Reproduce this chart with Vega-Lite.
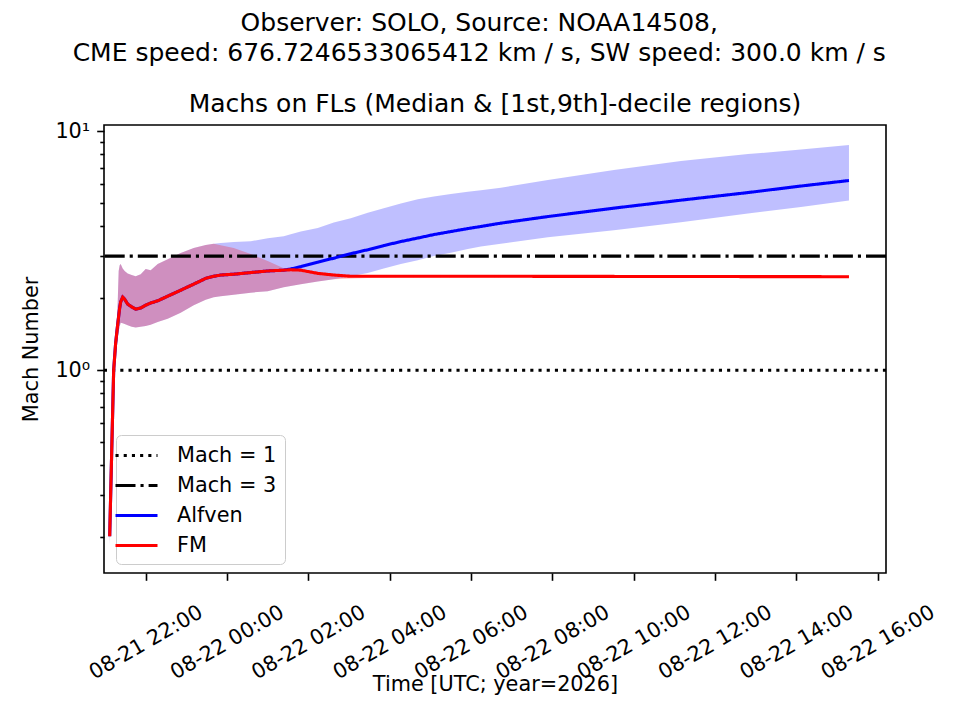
{
  "$schema": "https://vega.github.io/schema/vega-lite/v6.json",
  "background": "white",
  "padding": {"left": 20, "top": 11, "right": 10, "bottom": 10},
  "title": {
    "text": ["Observer: SOLO, Source: NOAA14508,", "CME speed: 676.7246533065412 km / s, SW speed: 300.0 km / s"],
    "fontSize": 25,
    "lineHeight": 30,
    "anchor": "middle",
    "frame": "bounds",
    "offset": 25
  },
  "resolve": {
    "scale": {"color": "independent", "strokeDash": "independent"},
    "legend": {"color": "independent", "strokeDash": "independent"}
  },
  "datasets": {
    "alfven": [
      {"t": "2026-08-21T21:06:54Z", "lo": 0.185, "med": 0.202, "hi": 0.22, "series": "Alfven"},
      {"t": "2026-08-21T21:09:49Z", "lo": 0.40, "med": 0.45, "hi": 0.52, "series": "Alfven"},
      {"t": "2026-08-21T21:12:46Z", "lo": 0.88, "med": 1.0, "hi": 1.12, "series": "Alfven"},
      {"t": "2026-08-21T21:15:43Z", "lo": 1.15, "med": 1.30, "hi": 1.45, "series": "Alfven"},
      {"t": "2026-08-21T21:17:12Z", "lo": 1.25, "med": 1.42, "hi": 1.58, "series": "Alfven"},
      {"t": "2026-08-21T21:18:40Z", "lo": 1.35, "med": 1.55, "hi": 1.9, "series": "Alfven"},
      {"t": "2026-08-21T21:20:08Z", "lo": 1.45, "med": 1.68, "hi": 2.6, "series": "Alfven"},
      {"t": "2026-08-21T21:21:37Z", "lo": 1.52, "med": 1.82, "hi": 2.75, "series": "Alfven"},
      {"t": "2026-08-21T21:23:06Z", "lo": 1.58, "med": 1.93, "hi": 2.78, "series": "Alfven"},
      {"t": "2026-08-21T21:26:03Z", "lo": 1.57, "med": 2.02, "hi": 2.66, "series": "Alfven"},
      {"t": "2026-08-21T21:29:00Z", "lo": 1.56, "med": 1.98, "hi": 2.60, "series": "Alfven"},
      {"t": "2026-08-21T21:33:26Z", "lo": 1.54, "med": 1.89, "hi": 2.54, "series": "Alfven"},
      {"t": "2026-08-21T21:39:20Z", "lo": 1.52, "med": 1.84, "hi": 2.50, "series": "Alfven"},
      {"t": "2026-08-21T21:45:14Z", "lo": 1.51, "med": 1.80, "hi": 2.47, "series": "Alfven"},
      {"t": "2026-08-21T21:52:37Z", "lo": 1.52, "med": 1.82, "hi": 2.52, "series": "Alfven"},
      {"t": "2026-08-21T22:00:00Z", "lo": 1.53, "med": 1.87, "hi": 2.65, "series": "Alfven"},
      {"t": "2026-08-21T22:07:23Z", "lo": 1.55, "med": 1.91, "hi": 2.62, "series": "Alfven"},
      {"t": "2026-08-21T22:17:43Z", "lo": 1.59, "med": 1.95, "hi": 2.78, "series": "Alfven"},
      {"t": "2026-08-21T22:32:29Z", "lo": 1.64, "med": 2.04, "hi": 2.91, "series": "Alfven"},
      {"t": "2026-08-21T22:51:40Z", "lo": 1.74, "med": 2.16, "hi": 3.09, "series": "Alfven"},
      {"t": "2026-08-21T23:10:51Z", "lo": 1.87, "med": 2.29, "hi": 3.24, "series": "Alfven"},
      {"t": "2026-08-21T23:28:34Z", "lo": 1.97, "med": 2.42, "hi": 3.34, "series": "Alfven"},
      {"t": "2026-08-21T23:40:22Z", "lo": 2.02, "med": 2.47, "hi": 3.38, "series": "Alfven"},
      {"t": "2026-08-21T23:50:42Z", "lo": 2.04, "med": 2.50, "hi": 3.40, "series": "Alfven"},
      {"t": "2026-08-22T00:09:53Z", "lo": 2.07, "med": 2.52, "hi": 3.44, "series": "Alfven"},
      {"t": "2026-08-22T00:34:59Z", "lo": 2.11, "med": 2.56, "hi": 3.46, "series": "Alfven"},
      {"t": "2026-08-22T01:00:04Z", "lo": 2.14, "med": 2.60, "hi": 3.56, "series": "Alfven"},
      {"t": "2026-08-22T01:23:41Z", "lo": 2.22, "med": 2.62, "hi": 3.63, "series": "Alfven"},
      {"t": "2026-08-22T01:34:01Z", "lo": 2.25, "med": 2.65, "hi": 3.70, "series": "Alfven"},
      {"t": "2026-08-22T01:48:46Z", "lo": 2.29, "med": 2.71, "hi": 3.80, "series": "Alfven"},
      {"t": "2026-08-22T02:13:52Z", "lo": 2.35, "med": 2.83, "hi": 3.93, "series": "Alfven"},
      {"t": "2026-08-22T02:37:29Z", "lo": 2.40, "med": 2.94, "hi": 4.15, "series": "Alfven"},
      {"t": "2026-08-22T03:02:35Z", "lo": 2.47, "med": 3.07, "hi": 4.32, "series": "Alfven"},
      {"t": "2026-08-22T03:27:40Z", "lo": 2.55, "med": 3.19, "hi": 4.55, "series": "Alfven"},
      {"t": "2026-08-22T03:51:17Z", "lo": 2.66, "med": 3.32, "hi": 4.76, "series": "Alfven"},
      {"t": "2026-08-22T04:16:23Z", "lo": 2.78, "med": 3.45, "hi": 4.98, "series": "Alfven"},
      {"t": "2026-08-22T04:41:28Z", "lo": 2.88, "med": 3.57, "hi": 5.19, "series": "Alfven"},
      {"t": "2026-08-22T05:05:05Z", "lo": 3.00, "med": 3.69, "hi": 5.33, "series": "Alfven"},
      {"t": "2026-08-22T05:30:11Z", "lo": 3.10, "med": 3.80, "hi": 5.45, "series": "Alfven"},
      {"t": "2026-08-22T05:55:17Z", "lo": 3.21, "med": 3.91, "hi": 5.58, "series": "Alfven"},
      {"t": "2026-08-22T06:14:30Z", "lo": 3.29, "med": 3.99, "hi": 5.66, "series": "Alfven"},
      {"t": "2026-08-22T06:43:59Z", "lo": 3.38, "med": 4.12, "hi": 5.80, "series": "Alfven"},
      {"t": "2026-08-22T07:53:22Z", "lo": 3.60, "med": 4.39, "hi": 6.24, "series": "Alfven"},
      {"t": "2026-08-22T09:30:46Z", "lo": 3.85, "med": 4.76, "hi": 6.87, "series": "Alfven"},
      {"t": "2026-08-22T11:09:40Z", "lo": 4.16, "med": 5.14, "hi": 7.49, "series": "Alfven"},
      {"t": "2026-08-22T12:48:34Z", "lo": 4.52, "med": 5.53, "hi": 8.01, "series": "Alfven"},
      {"t": "2026-08-22T14:06:47Z", "lo": 4.81, "med": 5.89, "hi": 8.37, "series": "Alfven"},
      {"t": "2026-08-22T15:17:37Z", "lo": 5.12, "med": 6.21, "hi": 8.74, "series": "Alfven"}
    ],
    "fm": [
      {"t": "2026-08-21T21:06:54Z", "lo": 0.185, "med": 0.202, "hi": 0.22, "series": "FM"},
      {"t": "2026-08-21T21:09:49Z", "lo": 0.40, "med": 0.45, "hi": 0.52, "series": "FM"},
      {"t": "2026-08-21T21:12:46Z", "lo": 0.88, "med": 1.0, "hi": 1.12, "series": "FM"},
      {"t": "2026-08-21T21:15:43Z", "lo": 1.15, "med": 1.30, "hi": 1.45, "series": "FM"},
      {"t": "2026-08-21T21:17:12Z", "lo": 1.25, "med": 1.42, "hi": 1.58, "series": "FM"},
      {"t": "2026-08-21T21:18:40Z", "lo": 1.35, "med": 1.55, "hi": 1.9, "series": "FM"},
      {"t": "2026-08-21T21:20:08Z", "lo": 1.45, "med": 1.68, "hi": 2.6, "series": "FM"},
      {"t": "2026-08-21T21:21:37Z", "lo": 1.52, "med": 1.82, "hi": 2.75, "series": "FM"},
      {"t": "2026-08-21T21:23:06Z", "lo": 1.58, "med": 1.93, "hi": 2.78, "series": "FM"},
      {"t": "2026-08-21T21:26:03Z", "lo": 1.57, "med": 2.02, "hi": 2.66, "series": "FM"},
      {"t": "2026-08-21T21:29:00Z", "lo": 1.56, "med": 1.98, "hi": 2.60, "series": "FM"},
      {"t": "2026-08-21T21:33:26Z", "lo": 1.54, "med": 1.89, "hi": 2.54, "series": "FM"},
      {"t": "2026-08-21T21:39:20Z", "lo": 1.52, "med": 1.84, "hi": 2.50, "series": "FM"},
      {"t": "2026-08-21T21:45:14Z", "lo": 1.51, "med": 1.80, "hi": 2.47, "series": "FM"},
      {"t": "2026-08-21T21:52:37Z", "lo": 1.52, "med": 1.82, "hi": 2.52, "series": "FM"},
      {"t": "2026-08-21T22:00:00Z", "lo": 1.53, "med": 1.87, "hi": 2.65, "series": "FM"},
      {"t": "2026-08-21T22:07:23Z", "lo": 1.55, "med": 1.91, "hi": 2.62, "series": "FM"},
      {"t": "2026-08-21T22:17:43Z", "lo": 1.59, "med": 1.95, "hi": 2.78, "series": "FM"},
      {"t": "2026-08-21T22:32:29Z", "lo": 1.64, "med": 2.04, "hi": 2.91, "series": "FM"},
      {"t": "2026-08-21T22:51:40Z", "lo": 1.74, "med": 2.16, "hi": 3.09, "series": "FM"},
      {"t": "2026-08-21T23:10:51Z", "lo": 1.87, "med": 2.29, "hi": 3.24, "series": "FM"},
      {"t": "2026-08-21T23:28:34Z", "lo": 1.97, "med": 2.42, "hi": 3.34, "series": "FM"},
      {"t": "2026-08-21T23:40:22Z", "lo": 2.02, "med": 2.47, "hi": 3.38, "series": "FM"},
      {"t": "2026-08-21T23:50:42Z", "lo": 2.04, "med": 2.50, "hi": 3.33, "series": "FM"},
      {"t": "2026-08-22T00:09:53Z", "lo": 2.07, "med": 2.52, "hi": 3.24, "series": "FM"},
      {"t": "2026-08-22T00:34:59Z", "lo": 2.11, "med": 2.56, "hi": 3.06, "series": "FM"},
      {"t": "2026-08-22T01:00:04Z", "lo": 2.14, "med": 2.60, "hi": 2.86, "series": "FM"},
      {"t": "2026-08-22T01:23:41Z", "lo": 2.22, "med": 2.62, "hi": 2.67, "series": "FM"},
      {"t": "2026-08-22T01:34:01Z", "lo": 2.25, "med": 2.63, "hi": 2.65, "series": "FM"},
      {"t": "2026-08-22T01:48:46Z", "lo": 2.29, "med": 2.62, "hi": 2.64, "series": "FM"},
      {"t": "2026-08-22T02:13:52Z", "lo": 2.35, "med": 2.54, "hi": 2.58, "series": "FM"},
      {"t": "2026-08-22T02:37:29Z", "lo": 2.40, "med": 2.50, "hi": 2.53, "series": "FM"},
      {"t": "2026-08-22T03:02:35Z", "lo": 2.42, "med": 2.47, "hi": 2.50, "series": "FM"},
      {"t": "2026-08-22T03:27:40Z", "lo": 2.43, "med": 2.47, "hi": 2.50, "series": "FM"},
      {"t": "2026-08-22T04:16:23Z", "lo": 2.44, "med": 2.47, "hi": 2.50, "series": "FM"},
      {"t": "2026-08-22T06:43:59Z", "lo": 2.44, "med": 2.47, "hi": 2.50, "series": "FM"},
      {"t": "2026-08-22T15:17:37Z", "lo": 2.43, "med": 2.46, "hi": 2.49, "series": "FM"}
    ],
    "mach": [
      {"series": "Mach = 1", "y": 1},
      {"series": "Mach = 3", "y": 3}
    ]
  },
  "vconcat": [
    {
      "width": 782,
      "height": 448,
      "title": {"text": "Machs on FLs (Median & [1st,9th]-decile regions)", "fontSize": 25, "offset": 3},
      "layer": [
        {
          "data": {"name": "alfven"},
          "mark": {"type": "area", "color": "#0000ff", "opacity": 0.25},
          "encoding": {
            "x": {
              "field": "t", "type": "temporal", "title": "Time [UTC; year=2026]",
              "scale": {"type": "utc", "domain": [
                {"year": 2026, "month": 8, "date": 21, "hours": 20, "minutes": 58, "seconds": 30, "utc": true},
                {"year": 2026, "month": 8, "date": 22, "hours": 16, "minutes": 12, "seconds": 15, "utc": true}
              ]},
              "axis": {
                "values": [
                  {"year": 2026, "month": 8, "date": 21, "hours": 22, "utc": true},
                  {"year": 2026, "month": 8, "date": 22, "hours": 0, "utc": true},
                  {"year": 2026, "month": 8, "date": 22, "hours": 2, "utc": true},
                  {"year": 2026, "month": 8, "date": 22, "hours": 4, "utc": true},
                  {"year": 2026, "month": 8, "date": 22, "hours": 6, "utc": true},
                  {"year": 2026, "month": 8, "date": 22, "hours": 8, "utc": true},
                  {"year": 2026, "month": 8, "date": 22, "hours": 10, "utc": true},
                  {"year": 2026, "month": 8, "date": 22, "hours": 12, "utc": true},
                  {"year": 2026, "month": 8, "date": 22, "hours": 14, "utc": true},
                  {"year": 2026, "month": 8, "date": 22, "hours": 16, "utc": true}
                ],
                "labelExpr": "utcFormat(datum.value, '%m-%d %H:%M')",
                "labelAngle": -30,
                "labelAlign": "center",
                "labelBaseline": "middle",
                "labelPadding": 62,
                "labelOverlap": false,
                "labelFlush": false,
                "labelBound": false,
                "tickSize": 7.3,
                "titlePadding": -8
              }
            },
            "y": {
              "field": "lo", "type": "quantitative", "title": "Mach Number",
              "scale": {"type": "log", "domain": [0.1419, 10.6], "nice": false},
              "axis": {
                "values": [0.2, 0.3, 0.4, 0.5, 0.6, 0.7, 0.8, 0.9, 1, 2, 3, 4, 5, 6, 7, 8, 9, 10],
                "labelExpr": "datum.value == 1 ? '10⁰' : (datum.value == 10 ? '10¹' : '')",
                "tickSize": {"condition": {"test": "datum.value == 1 || datum.value == 10", "value": 7.3}, "value": 4.2},
                "labelPadding": 7,
                "titlePadding": 13
              }
            },
            "y2": {"field": "hi"}
          }
        },
        {
          "data": {"name": "fm"},
          "mark": {"type": "area", "color": "#ff0000", "opacity": 0.25},
          "encoding": {
            "x": {"field": "t", "type": "temporal", "title": "Time [UTC; year=2026]"},
            "y": {"field": "lo", "type": "quantitative", "title": "Mach Number"},
            "y2": {"field": "hi"}
          }
        },
        {
          "data": {"name": "mach"},
          "mark": {"type": "rule", "strokeWidth": 3.1},
          "encoding": {
            "y": {"field": "y", "type": "quantitative", "title": "Mach Number"},
            "color": {"field": "series", "type": "nominal", "title": null,
              "scale": {"domain": ["Mach = 1", "Mach = 3", "Alfven", "FM"], "range": ["#000000", "#000000", "#0000ff", "#ff0000"]}},
            "strokeDash": {"field": "series", "type": "nominal", "title": null,
              "scale": {"domain": ["Mach = 1", "Mach = 3", "Alfven", "FM"], "range": [[3.1, 5.1], [20, 5, 3.1, 5], [1, 0], [1, 0]]}}
          }
        },
        {
          "data": {"name": "alfven"},
          "mark": {"type": "line", "strokeWidth": 3.1},
          "encoding": {
            "x": {"field": "t", "type": "temporal", "title": "Time [UTC; year=2026]"},
            "y": {"field": "med", "type": "quantitative", "title": "Mach Number"},
            "color": {"field": "series", "type": "nominal", "title": null},
            "strokeDash": {"field": "series", "type": "nominal", "title": null}
          }
        },
        {
          "data": {"name": "fm"},
          "mark": {"type": "line", "strokeWidth": 3.1},
          "encoding": {
            "x": {"field": "t", "type": "temporal", "title": "Time [UTC; year=2026]"},
            "y": {"field": "med", "type": "quantitative", "title": "Mach Number"},
            "color": {"field": "series", "type": "nominal", "title": null},
            "strokeDash": {"field": "series", "type": "nominal", "title": null}
          }
        }
      ]
    }
  ],
  "config": {
    "font": "DejaVu Sans",
    "view": {"stroke": "#000000", "strokeWidth": 1.6},
    "title": {"font": "DejaVu Sans", "fontSize": 25, "fontWeight": "normal", "color": "#000000"},
    "axis": {
      "domain": false,
      "grid": false,
      "labelFont": "DejaVu Sans",
      "labelFontSize": 20.8,
      "labelColor": "#000000",
      "titleFont": "DejaVu Sans",
      "titleFontSize": 20.8,
      "titleFontWeight": "normal",
      "titleColor": "#000000",
      "tickColor": "#000000",
      "tickWidth": 1.6
    },
    "legend": {
      "orient": "none",
      "legendX": 12,
      "legendY": 310,
      "symbolType": "M-2,0L2,0",
      "symbolSize": 441,
      "symbolStrokeWidth": 3.1,
      "labelFont": "DejaVu Sans",
      "labelFontSize": 20.8,
      "labelColor": "#000000",
      "labelOffset": 28,
      "rowPadding": 7,
      "padding": 8,
      "fillColor": "rgba(255,255,255,0.8)",
      "strokeColor": "#cccccc",
      "cornerRadius": 5
    }
  }
}
